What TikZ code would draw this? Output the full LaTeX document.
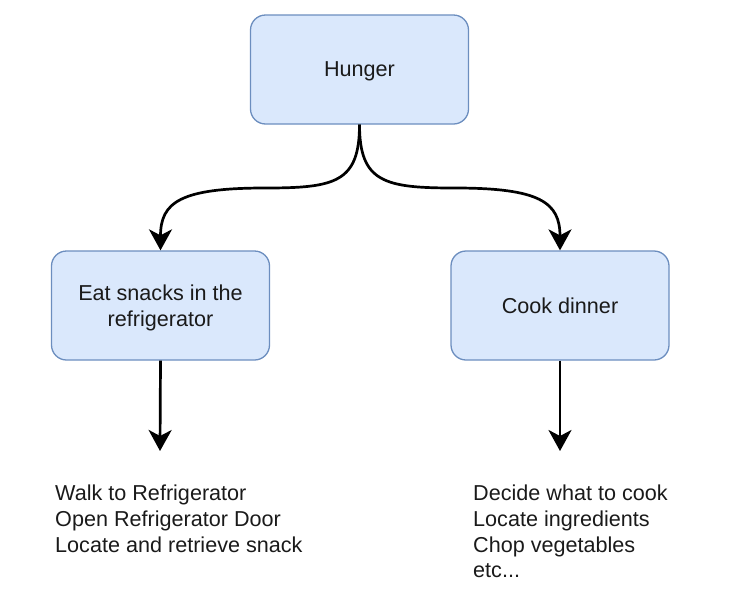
\documentclass[tikz,border=0pt]{standalone}
\usepackage{fontspec}
\setmainfont{Liberation Sans}
\usetikzlibrary{arrows.meta}
\definecolor{boxfill}{HTML}{DAE8FC}
\definecolor{boxline}{HTML}{6C8EBF}
\definecolor{txt}{HTML}{1A1A1A}
\begin{document}
\begin{tikzpicture}[x=1pt,y=-1pt,
  box/.style={draw=boxline,fill=boxfill,line width=1.3pt,rounded corners=15pt,
    minimum width=218pt,minimum height=109pt,align=center,text=txt,
    font=\fontsize{21.6}{26}\selectfont,inner sep=0pt},
  edge/.style={line width=2.7pt,-{Stealth[length=21pt,width=23pt,inset=6pt]}},
  list/.style={align=left,anchor=north west,inner sep=0pt,text=txt,
    font=\fontsize{21.6}{25.6}\selectfont}]
\useasboundingbox (0,0) rectangle (753,595);
\node[box,text depth=0pt] (h) at (359.5,69.5) {Hunger};
\node[box,text depth=0pt] (l) at (160.5,305.5) {Eat snacks in the\\refrigerator};
\node[box] (c) at (560,305.5) {Cook dinner};
\coordinate (lt) at (160,451);
\coordinate (ct) at (560,451);
\node[list] (la) at (55,485) {Walk to Refrigerator\\Open Refrigerator Door\\Locate and retrieve snack};
\node[list] (ca) at (473,485) {Decide what to cook\\Locate ingredients\\Chop vegetables\\etc...};
\draw[edge] (h.south) .. controls +(0,58) and +(70,0) .. (265,188)
  .. controls +(-85,0) and +(0,-48) .. (l.north);
\draw[edge] (h.south) .. controls +(0,58) and +(-70,0) .. (455,188)
  .. controls +(85,0) and +(0,-48) .. (c.north);
\draw[edge] (l.south) -- (lt);
\draw[edge] (c.south) -- (ct);
\end{tikzpicture}
\end{document}
